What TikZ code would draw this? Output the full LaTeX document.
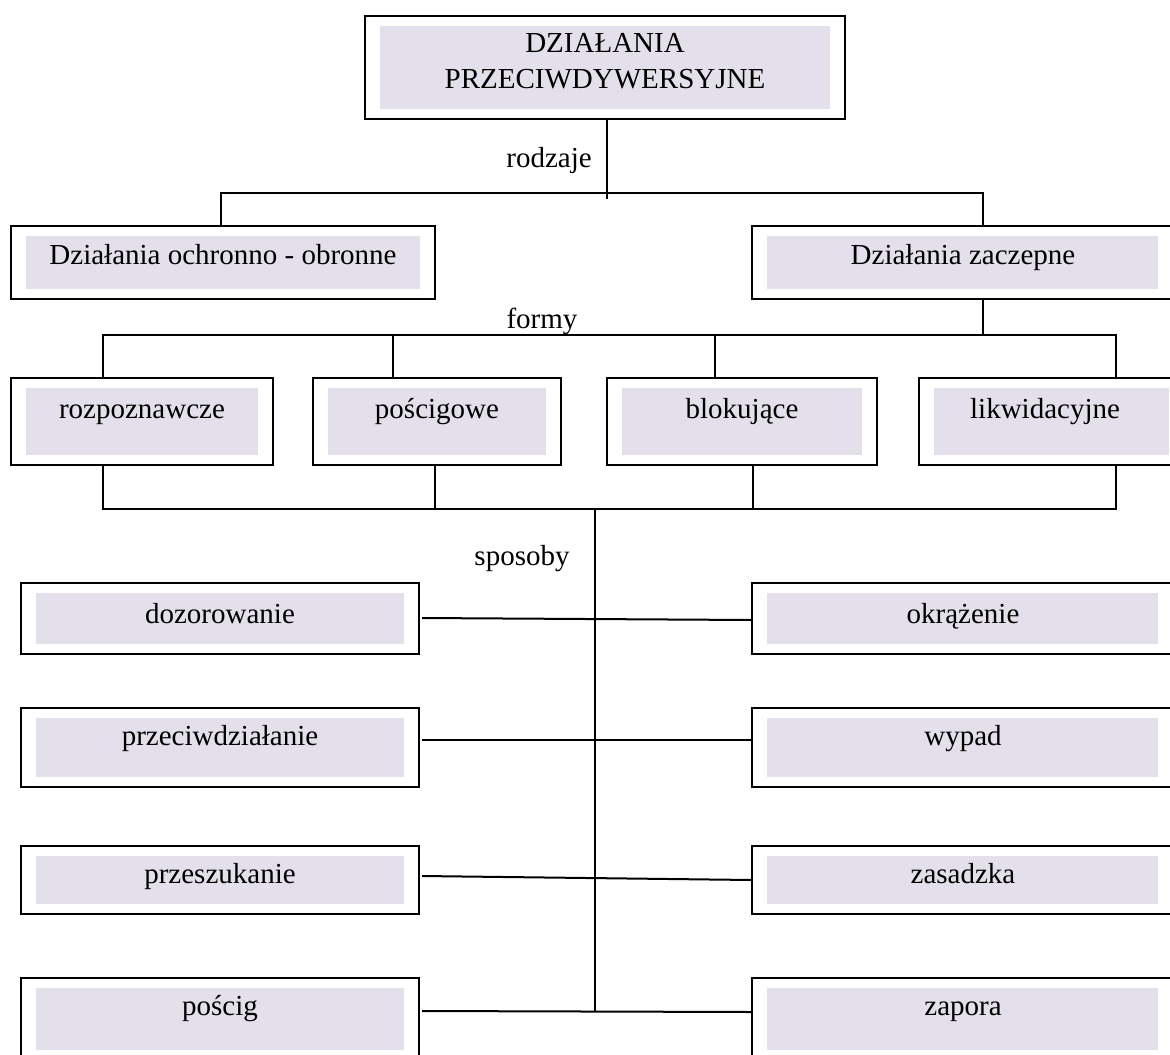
\documentclass[tikz,border=0pt]{standalone}
\usepackage{fontspec}
\setmainfont{Liberation Serif}
\usetikzlibrary{fit}
\definecolor{lav}{RGB}{227,223,235}
\begin{document}
\begin{tikzpicture}[x=0.5pt,y=-0.5pt,
  box/.style={draw=black, line width=1.1pt, fill=white, inner sep=0pt, outer sep=0pt, rectangle,
    path picture={\fill[lav] ([xshift=7.5pt,yshift=5pt]path picture bounding box.south west) rectangle ([xshift=-7.5pt,yshift=-5pt]path picture bounding box.north east);}},
  lbl/.style={anchor=base, inner sep=0pt, font=\fontsize{14.5}{18}\selectfont},
  conn/.style={line width=1pt, draw=black}]
\useasboundingbox (0,0) rectangle (1170,1054);
\clip (0,0) rectangle (1170,1054);
\fill[white] (0,0) rectangle (1170,1054);

% top
\node[box, fit={(365,16) (845,119)}] (top) {};
\node[lbl] (ttop1) at (top.center |- 0,53) {DZIAŁANIA};
\node[lbl] (ttop2) at (top.center |- 0,89) {PRZECIWDYWERSYJNE};

% level 2
\node[box, fit={(11,226) (435,299)}] (dzl) {};
\node[lbl] (tdzl) at (dzl.center |- 0,264) {Działania ochronno - obronne};
\node[box, fit={(752,226) (1173,299)}] (dzz) {};
\node[lbl] (tdzz) at (963,264) {Działania zaczepne};

% level 3
\node[box, fit={(11,378) (273,465)}] (roz) {};
\node[lbl] (troz) at (roz.center |- 0,418) {rozpoznawcze};
\node[box, fit={(313,378) (561,465)}] (pos) {};
\node[lbl] (tpos) at (pos.center |- 0,418) {pościgowe};
\node[box, fit={(607,378) (877,465)}] (blo) {};
\node[lbl] (tblo) at (blo.center |- 0,418) {blokujące};
\node[box, fit={(919,378) (1184,465)}] (lik) {};
\node[lbl] (tlik) at (1045,418) {likwidacyjne};

% level 4 left
\node[box, fit={(21,583) (419,654)}] (l1) {};
\node[lbl] (tl1) at (l1.center |- 0,623) {dozorowanie};
\node[box, fit={(21,708) (419,787)}] (l2) {};
\node[lbl] (tl2) at (l2.center |- 0,745) {przeciwdziałanie};
\node[box, fit={(21,846) (419,914)}] (l3) {};
\node[lbl] (tl3) at (l3.center |- 0,883) {przeszukanie};
\node[box, fit={(21,978) (419,1060)}] (l4) {};
\node[lbl] (tl4) at (l4.center |- 0,1015) {pościg};

% level 4 right
\node[box, fit={(752,583) (1173,654)}] (r1) {};
\node[lbl] (tr1) at (963,623) {okrążenie};
\node[box, fit={(752,708) (1173,787)}] (r2) {};
\node[lbl] (tr2) at (963,745) {wypad};
\node[box, fit={(752,846) (1173,914)}] (r3) {};
\node[lbl] (tr3) at (963,883) {zasadzka};
\node[box, fit={(752,978) (1173,1060)}] (r4) {};
\node[lbl] (tr4) at (963,1015) {zapora};

% labels
\node[lbl] (rodz) at (549,167) {rodzaje};
\node[lbl] (form) at (542,328) {formy};
\node[lbl] (spos) at (522,565) {sposoby};

% connectors
\coordinate (j1) at (607,193);
\draw[conn] (top.south -| j1) -- (607,199);
\draw[conn] (dzl.north -| 221,0) |- (j1) -| (dzz.north -| 983,0);
\draw[conn] (dzz.south -| 983,0) -- (983,335);
\coordinate (fL) at (103,335);
\coordinate (fR) at (1116,335);
\draw[conn] (roz.north -| fL) -- (fL) -- (fR) -- (lik.north -| fR);
\draw[conn] (pos.north -| 393,0) -- (393,335);
\draw[conn] (blo.north -| 715,0) -- (715,335);
\coordinate (bL) at (103,509);
\coordinate (bR) at (1116,509);
\draw[conn] (roz.south -| bL) -- (bL) -- (bR) -- (lik.south -| bR);
\draw[conn] (pos.south -| 435,0) -- (435,509);
\draw[conn] (blo.south -| 753,0) -- (753,509);
\coordinate (cT) at (595,509);
\coordinate (cB) at (595,1012);
\draw[conn] (cT) -- (cB);
\coordinate (a1) at (422,618);
\coordinate (a2) at (422,740);
\coordinate (a3) at (422,876);
\coordinate (a4) at (422,1011);
\draw[conn] (a1) -- (r1.west |- 0,620);
\draw[conn] (a2) -- (r2.west |- 0,740);
\draw[conn] (a3) -- (r3.west |- 0,880);
\draw[conn] (a4) -- (r4.west |- 0,1012);
\end{tikzpicture}
\end{document}
